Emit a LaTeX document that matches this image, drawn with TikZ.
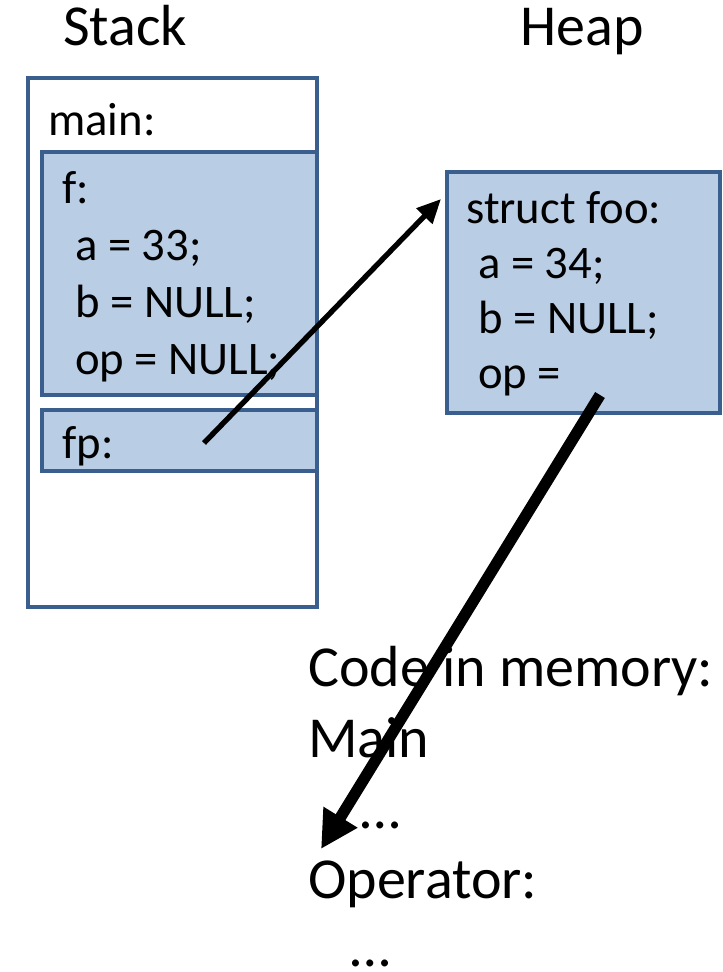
\documentclass[tikz,border=0pt]{standalone}
\usepackage{fontspec}
\setmainfont{Carlito}
\usetikzlibrary{arrows.meta,positioning}

\definecolor{frameblue}{HTML}{3A5F8E}
\definecolor{cellfill}{HTML}{B9CDE5}

\tikzset{
	frame/.style={draw=frameblue, line width=3.3pt},
	cell/.style={frame, fill=cellfill},
	boxsize/.style 2 args={minimum width=#1*0.75pt, minimum height=#2*0.75pt},
	body/.style={anchor=base west, inner sep=0pt, font=\fontsize{35}{41}\selectfont},
	heading/.style={anchor=base west, inner sep=0pt, font=\fontsize{43.5}{51}\selectfont},
	ptr/.style={line width=4pt, -{Triangle[length=18pt,width=16pt]}},
	bigptr/.style={line width=8.5pt, -{Triangle[length=28pt,width=28pt]}}
}

\begin{document}
\begin{tikzpicture}[x=0.75pt, y=-0.75pt]
		\useasboundingbox (0,0) rectangle (722,972);
		\node[heading] (stacktitle) at (63,45) {Stack};
		\node[heading] (heaptitle) at (520,45) {Heap};
		% stack frames
		\node[frame, fill=white, boxsize={289}{529}] (stack) at (172.5,342.5) {};
		\node[body] (mainname) at (48,135) {main:};
		\node[cell, boxsize={275}{243}] (f) at (179.5,273.5) {};
		\node[body] (fname) at (62,203) {f:};
		\foreach \txt [count=\i] in {a = 33;, b = NULL;, op = NULL;}
			\node[body] (fvar\i) at (75,203+57*\i) {\txt};
		\node[cell, boxsize={275}{61}] (fp) at (179.5,440.5) {};
		\node[body] (fpname) at (62,458) {fp:};
		\coordinate (fpval) at (204,443);
		% heap object
		\node[cell, boxsize={273}{241}] (heap) at (583.5,292.5) {};
		\node[body] (sname) at (466,223) {struct foo:};
		\foreach \txt [count=\i] in {a = 34;, b = NULL;, op =}
			\node[body] (svar\i) at (478,223+55*\i) {\txt};
		\coordinate (opval) at (600,395);
		\coordinate (heapref) at (441,199);
		% code
		\node[heading] (code) at (308,686) {Code in memory:};
		\node[heading] (mainfn) at (308,757) {Main};
		\node[heading] (dots1) at (360,828) {…};
		\node[heading] (opfn) at (308,898) {Operator:};
		\node[heading] (dots2) at (350,966) {…};
		\coordinate (coderef) at (321,849);
		% pointers
		\draw[ptr] (fpval) -- (heapref);
		\draw[bigptr] (opval) -- (coderef);
\end{tikzpicture}
\end{document}
